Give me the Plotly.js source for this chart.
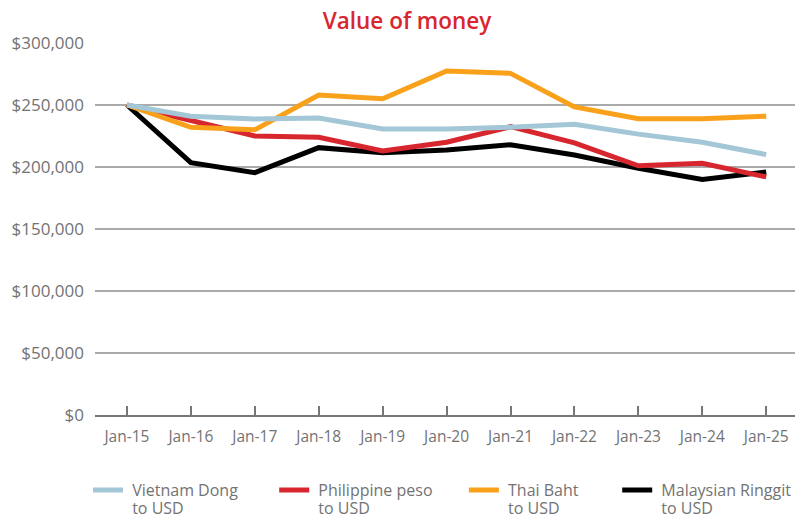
<!DOCTYPE html>
<html><head><meta charset="utf-8">
<script src="https://cdn.plot.ly/plotly-3.0.1.min.js"></script>
<style>html,body{margin:0;padding:0;background:#fff}#chart{width:795px;height:516px}</style>
</head><body><div id="chart"></div>
<script>
const categories = ["Jan-15","Jan-16","Jan-17","Jan-18","Jan-19","Jan-20","Jan-21","Jan-22","Jan-23","Jan-24","Jan-25"];
const vietnam   = [250000,241000,238700,239500,230600,230600,232000,234500,226500,220000,210000];
const philippine= [250000,238000,225000,224000,213000,220000,232500,219500,201000,203000,192000];
const thai      = [250000,232000,230000,258000,255000,277500,275500,248500,239000,239000,241000];
const malaysian = [250000,203500,195400,215600,211500,213700,218000,209700,199000,190000,196000];
const seriesLine1 = ["Vietnam Dong","Philippine peso","Thai Baht","Malaysian Ringgit"];
const seriesLine2 = ["to USD","to USD","to USD","to USD"];
const yTicks = [0,50000,100000,150000,200000,250000,300000];
const yTickText = ["$0","$50,000","$100,000","$150,000","$200,000","$250,000","$300,000"];

const colors = ["#a3c7d6","#d8262f","#f9a11b","#000000"];
const data = [vietnam, philippine, thai, malaysian];
const legendIds = ["legend","legend2","legend3","legend4"];
const sp = t => "<span style='font-size:16px'>\u00A0" + t + "</span>";
const traces = [0,1,2,3].map(i => ({
  x: categories, y: data[i], name: sp(seriesLine1[i]) + "<br>" + sp(seriesLine2[i]),
  type: "scatter", mode: "lines",
  line: {color: colors[i], width: 5}, legend: legendIds[i]
}));
const drawOrder = [3,1,2,0].map(i => traces[i]);

const font = {family: "Open Sans, sans-serif", color: "#737373", size: 15};
const legendX = [-0.01, 0.256, 0.527, 0.746];
const layout = {
  width: 795, height: 516,
  margin: {l: 95, r: 0, t: 43, b: 101, autoexpand: false},
  paper_bgcolor: "#fff", plot_bgcolor: "#fff",
  font: font,
  title: {text: "Value of money", font: {family: "Open Sans, sans-serif", size: 22.5, color: "#d8262f", weight: 600}, x: 0.512, xanchor: "center", y: 0.96, yanchor: "middle"},
  xaxis: {type: "category", range: [-0.5, 10.45], showgrid: false, zeroline: false, automargin: false,
    showline: true, linecolor: "#777", linewidth: 2, ticks: "inside", ticklen: 9, tickwidth: 2, tickcolor: "#777",
    ticklabelstandoff: 6,
    tickfont: {size: 15.5, color: "#737373"}, fixedrange: true},
  yaxis: {range: [0, 300000], tickvals: yTicks, ticktext: yTickText, showgrid: true, gridcolor: "#aaaaaa", gridwidth: 1.5,
    zeroline: false, showline: false, ticks: "", ticklabelstandoff: 10, automargin: false,
    tickfont: {size: 17, color: "#737373"}, fixedrange: true},
  showlegend: true
};
legendIds.forEach((id, k) => {
  layout[id] = {orientation: "h", x: legendX[k], y: -0.16, xanchor: "left", yanchor: "top",
    font: {size: 14, color: "#737373"}, bgcolor: "rgba(0,0,0,0)", traceorder: "normal", valign: "top"};
});
Plotly.newPlot("chart", drawOrder, layout, {displayModeBar: false, staticPlot: true});
</script>
</body></html>
